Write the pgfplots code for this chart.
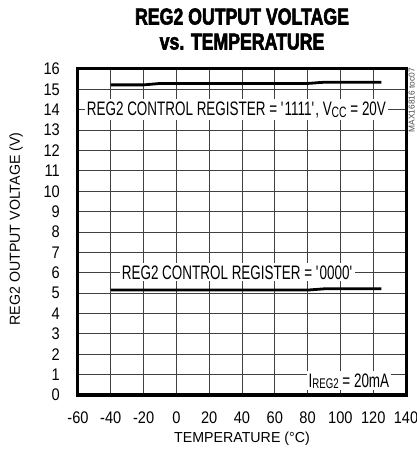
\documentclass[border=0pt]{standalone}
\usepackage{fontspec}
\setmainfont{Liberation Sans}[FakeStretch=0.87]
\newfontfamily\condfont{Liberation Sans}[FakeStretch=0.69]
\newfontfamily\labfont{Liberation Sans}[FakeStretch=0.98]
\newfontfamily\titlefont{Liberation Sans Bold}[FakeStretch=0.77,FakeBold=2.5]
\usepackage{pgfplots}
\pgfplotsset{compat=1.18}
\begin{document}
\begin{tikzpicture}
\begin{axis}[
  scale only axis, width=328pt, height=326pt,
  xmin=-60, xmax=140, ymin=0, ymax=16,
  xtick={-60,-40,...,140}, ytick={0,1,...,16},
  grid=major, major grid style={black!75, line width=0.9pt},
  axis line style={line width=3pt},
  tick style={draw=none},
  /pgf/number format/assume math mode=true,
  ticklabel style={font=\fontsize{16.8}{16.8}\selectfont, inner sep=0pt},
  yticklabel style={anchor=east, xshift=-18pt},
  xticklabel style={anchor=base, yshift=-28pt},
  xlabel={TEMPERATURE (°C)},
  label style={font=\labfont\fontsize{14.5}{14.5}\selectfont, inner sep=0pt},
  xlabel style={at={(rel axis cs:0.5,0)}, anchor=base, yshift=-47pt},
  clip=false,
]
\addplot[black, line width=2.8pt] coordinates {(-40,15.22) (-20,15.22) (-10,15.29) (0,15.29) (80,15.29) (90,15.35) (125,15.35)};
\addplot[black, line width=2.8pt] coordinates {(-40,5.15) (80,5.15) (90,5.21) (125,5.21)};
\node[fill=white, inner sep=2pt, anchor=base, font=\condfont\fontsize{19.5}{19.5}\selectfont] at (axis cs:36.6,13.74) {REG2 CONTROL REGISTER = \textquotesingle1111\textquotesingle, V\raisebox{-2pt}{\fontsize{15}{15}\selectfont CC} = 20V};
\node[fill=white, inner sep=2pt, anchor=base, font=\condfont\fontsize{19.5}{19.5}\selectfont] at (axis cs:37.3,5.69) {REG2 CONTROL REGISTER = \textquotesingle0000\textquotesingle};
\node[fill=white, inner sep=2pt, anchor=base, font=\condfont\fontsize{19.5}{19.5}\selectfont] at (axis cs:105.2,0.39) {I\raisebox{-1pt}{\fontsize{14}{14}\selectfont REG2} = 20mA};
\node[rotate=90, anchor=south east, font=\labfont\fontsize{8.5}{8.5}\selectfont, text=black!70, inner sep=0pt] at ([xshift=9pt, yshift=1pt]rel axis cs:1,1) {MAX16816 toc07};
\node[rotate=90, anchor=base, font=\labfont\fontsize{14.5}{14.5}\selectfont, inner sep=0pt] at ([xshift=-58pt, yshift=3pt]rel axis cs:0,0.5) {REG2 OUTPUT VOLTAGE (V)};
\node[anchor=base, font=\titlefont\fontsize{23}{23}\selectfont] at (rel axis cs:0.5,1) [yshift=44.5pt] {REG2 OUTPUT VOLTAGE};
\node[anchor=base, font=\titlefont\fontsize{23}{23}\selectfont] at (rel axis cs:0.5,1) [yshift=19.5pt] {vs. TEMPERATURE};
\end{axis}
\pgfresetboundingbox
\path (-78pt,-62pt) rectangle (338pt,395pt);
\end{tikzpicture}
\end{document}
